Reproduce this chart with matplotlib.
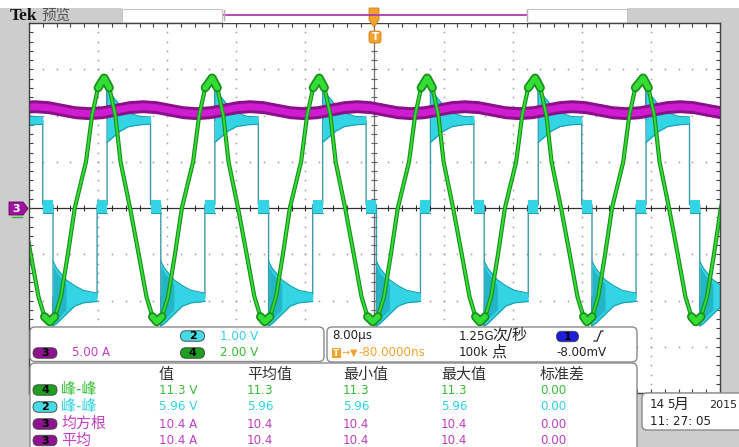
import numpy as np
import matplotlib
matplotlib.use('Agg')
import matplotlib.pyplot as plt
from matplotlib.patches import FancyBboxPatch, Rectangle, Polygon

plt.rcParams['font.family'] = ['DejaVu Sans', 'Noto Sans CJK SC']

# ---------------- data (time in µs, amplitude in screen divisions) ----------------
# Channel 4 (green): trough / peak times and the shape read around them
green_trough_t = [-37.6, -25.2, -12.7, -0.2, 12.2, 24.6, 37.2]
green_peak_t = [-43.8, -31.3, -18.8, -6.4, 6.1, 18.6, 31.1, 43.6]
green_rise_dt = [0.0, 0.6, 1.3, 2.1, 2.9, 4.2, 4.9, 5.6]
green_rise_v = [-2.46, -2.35, -1.92, -1.0, 0.0, 1.0, 2.0, 2.6]
green_fall_dt = [0.0, 0.6, 1.3, 1.9, 3.0, 4.0, 4.9, 5.6]
green_fall_v = [2.81, 2.6, 2.0, 1.0, 0.0, -1.0, -1.92, -2.35]

# Channel 2 (cyan): high->mid drop times and the switching pattern after each drop
cyan_drop_t = [-50.89, -38.41, -25.93, -13.45, -0.97, 11.51, 23.99, 36.47]
cyan_step_dt = [0.0, 0.0, 1.19, 1.19, 1.25, 6.29, 6.29, 7.45, 7.45, 7.5]
cyan_step_v = [1.9, 0.07, 0.07, -2.55, -1.93, -1.93, 0.07, 0.07, 2.6, 1.9]
cyan_mid1_dt = [0.0, 1.19]
cyan_mid2_dt = [6.29, 7.45]
cyan_mid_hi = [0.18, 0.18]
cyan_mid_lo = [-0.1, -0.1]
cyan_low_dt = [1.19, 1.6, 2.7, 3.7, 4.7, 6.29]
cyan_low_hi = [-1.15, -1.3, -1.55, -1.68, -1.78, -1.84]
cyan_low_lo = [-2.55, -2.5, -2.3, -2.12, -2.05, -2.02]
cyan_high_dt = [7.45, 7.95, 8.95, 9.95, 11.25, 12.48]
cyan_high_hi = [2.62, 2.45, 2.22, 2.06, 1.98, 1.97]
cyan_high_lo = [1.42, 1.5, 1.66, 1.76, 1.8, 1.81]

# Channel 3 (magenta): slow ripple of the current trace (times of the upper crests + one period of shape)
mag_high_t = [-51.8, -39.3, -26.8, -14.4, -2.0, 10.5, 22.9, 35.4]
mag_shape_dt = [0.0, 1.56, 3.12, 4.68, 6.25, 7.81, 9.37, 10.93]
mag_shape_v = [2.19, 2.17, 2.115, 2.06, 2.04, 2.06, 2.115, 2.17]

# Readouts
ch_scales = ["5.00 A", "1.00 V", "2.00 V"]
meas_headers = ["值", "平均值", "最小值", "最大值", "标准差"]
meas_badges = ["4", "2", "3", "3"]
meas_labels = ["峰-峰", "峰-峰", "均方根", "平均"]
meas_values = [["11.3 V", "11.3", "11.3", "11.3", "0.00"],
               ["5.96 V", "5.96", "5.96", "5.96", "0.00"],
               ["10.4 A", "10.4", "10.4", "10.4", "0.00"],
               ["10.4 A", "10.4", "10.4", "10.4", "0.00"]]

GREEN_T = '#37bd37'
CYAN_T = '#2fd3e2'
MAG_T = '#c23fc2'
ORANGE = '#f2a22e'

# ---------------- figure ----------------
fig = plt.figure(figsize=(7.39, 4.47), dpi=100)
fig.patch.set_facecolor('#cdcdcd')

W, H = 739, 447
ax = fig.add_axes([29 / W, (H - 393) / H, 691 / W, 370 / H], zorder=1)
ax.set_xlim(-40, 40)
ax.set_ylim(-4, 4)
ax.set_facecolor('white')

major_x = np.arange(-40, 40.01, 8)
major_y = np.arange(-4, 4.01, 1)
minor_x = np.arange(-40, 40.01, 1.6)
minor_y = np.arange(-4, 4.01, 0.2)

ax.set_xticks(major_x)
ax.set_yticks(major_y)
ax.set_xticks(minor_x, minor=True)
ax.set_yticks(minor_y, minor=True)
ax.tick_params(which='both', direction='in', length=3, width=0.8, color='#404040',
               top=True, right=True, labelbottom=False, labelleft=False)
for s in ax.spines.values():
    s.set_color('#404040')
    s.set_linewidth(1.0)
    s.set_zorder(10)

# dotted graticule
for xm in major_x[1:-1]:
    if abs(xm) > 1e-9:
        ax.plot(np.full_like(minor_y, xm), minor_y, ls='none', marker='s', ms=1.1,
                mew=0, color='#9c9c9c', zorder=1)
for ym in major_y[1:-1]:
    if abs(ym) > 1e-9:
        ax.plot(minor_x, np.full_like(minor_x, ym), ls='none', marker='s', ms=1.1,
                mew=0, color='#9c9c9c', zorder=1)
# centre cross
ax.axhline(0, color='#303030', lw=0.9, zorder=1.5)
ax.axvline(0, color='#707070', lw=0.9, zorder=1.5)
ax.plot(minor_x, np.zeros_like(minor_x), ls='none', marker='|', ms=4, mew=0.8, color='#303030', zorder=1.5)
ax.plot(np.zeros_like(minor_y), minor_y, ls='none', marker='_', ms=5, mew=0.8, color='#606060', zorder=1.5)

# ---- cyan channel 2 ----
c_fill = '#33d4e4'
c_dark = '#1ba2b2'
c_edge = '#1a9fb0'
c_line = '#3b9aa8'
ct, cv = [], []
for td in cyan_drop_t:
    ct += [td + d for d in cyan_step_dt]
    cv += list(cyan_step_v)
ax.plot(ct, cv, color=c_line, lw=1.0, zorder=2)
for td in cyan_drop_t:
    for seg in (cyan_mid1_dt, cyan_mid2_dt):
        tt = td + np.array(seg)
        ax.fill_between(tt, cyan_mid_lo, cyan_mid_hi, color=c_fill, lw=0, zorder=2.2)
        ax.plot(tt, cyan_mid_lo, color=c_edge, lw=0.7, zorder=2.3)
    tl = td + np.array(cyan_low_dt)
    ax.fill_between(tl, cyan_low_lo, cyan_low_hi, color=c_fill, lw=0, zorder=2.2)
    ax.fill_between(tl[:3], np.array(cyan_low_lo[:3]) + 0.1, np.array(cyan_low_hi[:3]) - 0.1,
                    color=c_dark, lw=0, zorder=2.25, alpha=0.6)
    ax.plot(tl, cyan_low_lo, color=c_edge, lw=0.8, zorder=2.3)
    ax.plot(tl, cyan_low_hi, color=c_edge, lw=0.8, zorder=2.3)
    th = td + np.array(cyan_high_dt)
    ax.fill_between(th, cyan_high_lo, cyan_high_hi, color=c_fill, lw=0, zorder=2.2)
    ax.plot(th, cyan_high_lo, color=c_edge, lw=0.8, zorder=2.3)
    ax.plot(th, cyan_high_hi, color=c_edge, lw=0.8, zorder=2.3)

# ---- magenta channel 3 ----
mt, mv = [], []
for t0 in mag_high_t:
    mt += [t0 + d for d in mag_shape_dt]
    mv += list(mag_shape_v)
mt = np.array(mt)
mv = np.array(mv)
ax.fill_between(mt, mv - 0.14, mv + 0.14, color='#8a108a', lw=0, zorder=4)
ax.fill_between(mt, mv - 0.075, mv + 0.075, color='#d01cd0', lw=0, zorder=4.1)

# ---- green channel 4 ----
segs = [(tp, green_fall_dt, green_fall_v) for tp in green_peak_t] + \
       [(tt, green_rise_dt, green_rise_v) for tt in green_trough_t]
segs.sort(key=lambda s: s[0])
gt, gv = [], []
for t0, dts, vs in segs:
    gt += [t0 + d for d in dts]
    gv += list(vs)
gt = np.array(gt)
gv = np.array(gv)
ax.plot(gt, gv, color='#16901a', lw=3.0, zorder=5, solid_capstyle='round')
ax.plot(gt, gv, color='#35dc35', lw=1.4, zorder=5.1, solid_capstyle='round')
ext = np.where((gv > 2.3) | (gv < -2.2), gv, np.nan)
ax.plot(gt, ext, color='#16901a', lw=6.5, zorder=5.2, solid_capstyle='round')
ax.plot(gt, ext, color='#35dc35', lw=4.0, zorder=5.3, solid_capstyle='round')

# ---------------- overlay (pixel coordinates) ----------------
ov = fig.add_axes([0, 0, 1, 1], zorder=5)
ov.set_xlim(0, W)
ov.set_ylim(H, 0)
ov.axis('off')
ov.patch.set_alpha(0)

# top strip
ov.add_patch(Rectangle((0, 0), W, 8, facecolor='white', edgecolor='none'))
ov.add_patch(Rectangle((122, 8), 505, 14.5, facecolor='white', edgecolor='none'))
ov.add_patch(Rectangle((122, 8.5), 100, 13.5, facecolor='white', edgecolor='#c4c4c4', lw=0.8))
ov.add_patch(Rectangle((527, 8.5), 100, 13.5, facecolor='white', edgecolor='#c4c4c4', lw=0.8))
ov.plot([224, 527], [15, 15], color='#b03cb0', lw=1.3)
ov.plot([224, 224], [10, 20], color='#b0b0b0', lw=1)
ov.plot([527, 527], [10, 20], color='#b0b0b0', lw=1)
ov.text(10, 15.5, 'Tek', fontsize=12.5, fontweight='bold', family=['Liberation Serif'],
        va='center', ha='left', color='#111111')
ov.text(41, 15.5, '预览', fontsize=10.5, family=['Noto Sans CJK SC'], va='center', ha='left', color='#555555')

# trigger markers
ov.add_patch(Polygon([[369, 8], [379, 8], [379, 20], [374, 27], [369, 20]], closed=True,
                     facecolor=ORANGE, edgecolor='#d08010', lw=0.6))
ov.add_patch(FancyBboxPatch((369, 31), 12, 12, boxstyle='round,pad=0,rounding_size=2.5',
                            facecolor=ORANGE, edgecolor='#d08010', lw=0.6))
ov.text(375, 37.5, 'T', fontsize=7.5, fontweight='bold', color='white', ha='center', va='center')

# channel 3 marker on the left
ov.add_patch(Polygon([[9, 202], [23, 202], [28, 208.5], [23, 215], [9, 215]], closed=True,
                     facecolor='#a012a0', edgecolor='#5a005a', lw=0.6))
ov.plot([12, 22], [216.5, 216.5], color='#2cb82c', lw=1)
ov.text(16.5, 208.8, '3', fontsize=8, fontweight='bold', color='white', ha='center', va='center')


def panel(x0, y0, x1, y1):
    ov.add_patch(FancyBboxPatch((x0, y0), x1 - x0, y1 - y0,
                                boxstyle='round,pad=0,rounding_size=5',
                                facecolor='white', edgecolor='#8a8a8a', lw=1.0))


def badge(xc, yc, label, color, w=24, h=10.5):
    ov.add_patch(FancyBboxPatch((xc - w / 2, yc - h / 2), w, h,
                                boxstyle='round,pad=0,rounding_size=%g' % (h / 2),
                                facecolor=color, edgecolor='#404040', lw=0.6))
    ov.text(xc, yc + 0.3, label, fontsize=8, fontweight='bold', color='black', ha='center', va='center')


panel(30, 327, 324, 361.5)
panel(327, 327, 637, 362)
panel(30, 363, 637, 455)
panel(642, 393, 750, 430)

LAT = 8.6
CJK = 10.8

# channel scale panel
badge(45, 353, '3', '#8e138e')
ov.text(72, 353, ch_scales[0], fontsize=LAT, color=MAG_T, va='center', ha='left')
badge(192.5, 336, '2', '#45dbe6')
ov.text(220, 336, ch_scales[1], fontsize=LAT, color=CYAN_T, va='center', ha='left')
badge(192.5, 353, '4', '#1f9f1f')
ov.text(220, 353, ch_scales[2], fontsize=LAT, color=GREEN_T, va='center', ha='left')

# timebase panel
ov.text(332, 336, '8.00μs', fontsize=LAT, color='#222222', va='center', ha='left')
ov.add_patch(Rectangle((332, 348), 8.5, 10, facecolor=ORANGE, edgecolor='none'))
ov.text(336.2, 353.2, 'T', fontsize=6.5, fontweight='bold', color='white', ha='center', va='center')
ov.text(341, 353, '→', fontsize=7, color=ORANGE, va='center', ha='left')
ov.text(349.5, 353, '▼', fontsize=7, color=ORANGE, va='center', ha='left')
ov.text(358, 353, '-80.0000ns', fontsize=LAT, color=ORANGE, va='center', ha='left')
ov.text(459, 336, '1.25G', fontsize=LAT, color='#222222', va='center', ha='left')
ov.text(492, 335.5, '次/秒', fontsize=CJK, color='#222222', va='center', ha='left')
ov.text(459, 353, '100k', fontsize=LAT, color='#222222', va='center', ha='left')
ov.text(491, 352.5, '点', fontsize=CJK, color='#222222', va='center', ha='left')
badge(567.5, 336.5, '1', '#1c1ce0', w=22)
ov.plot([594, 597, 601, 603], [341, 341, 331, 331], color='#222222', lw=0.9)
ov.text(556, 353, '-8.00mV', fontsize=LAT, color='#222222', va='center', ha='left')

# measurement panel
col_x = [159, 247, 343, 441, 540]
row_y = [390, 407, 424, 440.5]
row_cols = [GREEN_T, CYAN_T, MAG_T, MAG_T]
badge_cols = ['#1f9f1f', '#45dbe6', '#8e138e', '#8e138e']
for x, h in zip(col_x, meas_headers):
    ov.text(x, 374.5, h, fontsize=CJK, color='#333333', va='center', ha='left')
for y, b, bc, lab, vals, c in zip(row_y, meas_badges, badge_cols, meas_labels, meas_values, row_cols):
    badge(45, y, b, bc)
    ov.text(61, y - 0.5, lab, fontsize=CJK, color=c, va='center', ha='left')
    for x, v in zip(col_x, vals):
        ov.text(x, y, v, fontsize=LAT, color=c, va='center', ha='left')

# date box
ov.text(650, 405, '14', fontsize=LAT, color='#222222', va='center', ha='left')
ov.text(667, 405, '5', fontsize=LAT, color='#222222', va='center', ha='left')
ov.text(674, 404.5, '月', fontsize=CJK, color='#222222', va='center', ha='left')
ov.text(709, 405, '2015', fontsize=8.0, color='#222222', va='center', ha='left')
ov.text(650, 421.5, '11: 27: 05', fontsize=LAT, color='#222222', va='center', ha='left')

fig.savefig('out.png', dpi=100, facecolor=fig.get_facecolor())
